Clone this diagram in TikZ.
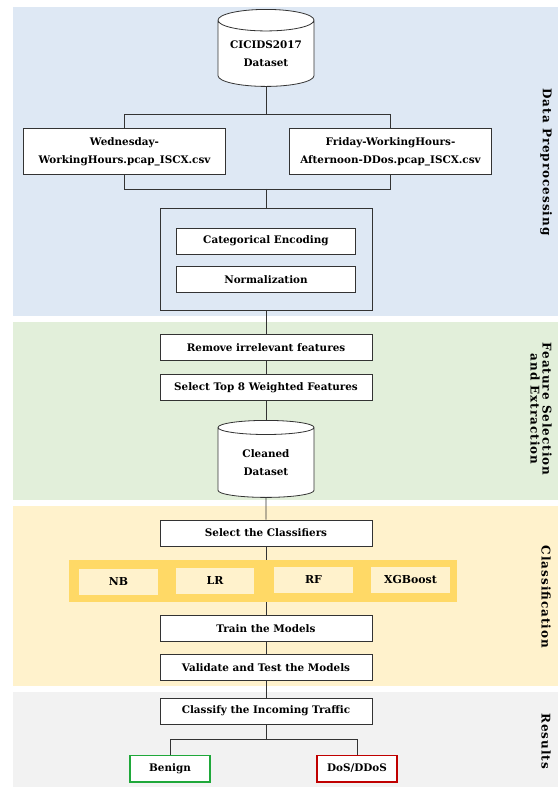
\documentclass[tikz,border=0pt]{standalone}
\usepackage{fontspec}
\setmainfont{DejaVu Serif}
\usetikzlibrary{positioning, shapes.geometric, backgrounds}

\definecolor{prepblue}{HTML}{DEE8F4}
\definecolor{featgreen}{HTML}{E2EFDA}
\definecolor{clsyellow}{HTML}{FFF2CC}
\definecolor{baryellow}{HTML}{FFD966}
\definecolor{resgray}{HTML}{F2F2F2}
\definecolor{benigngreen}{HTML}{1FA83A}
\definecolor{dosred}{HTML}{C00000}

\begin{document}
\begin{tikzpicture}[x=0.75pt, y=-0.75pt,
  stepbox/.style={draw=black!80, line width=0.6pt, fill=white, minimum width=159pt,
                  minimum height=19.5pt, inner sep=0pt, align=center,
                  font=\fontsize{7.8}{13.5}\selectfont\bfseries},
  filebox/.style={stepbox, minimum width=152pt, minimum height=34pt},
  groupbox/.style={draw=black!80, line width=0.6pt, fill=prepblue, minimum width=159pt,
                   minimum height=76.5pt},
  innerbox/.style={stepbox, minimum width=134pt},
  dbnode/.style={cylinder, shape border rotate=90, aspect=0.3, draw=black!80,
                 line width=0.6pt, fill=white, minimum width=72pt, minimum height=57.75pt,
                 inner sep=0pt, align=center, font=\fontsize{7.8}{13.5}\selectfont\bfseries},
  modelbar/.style={fill=baryellow, minimum width=291pt, minimum height=31.5pt},
  modelbox/.style={fill=clsyellow, minimum width=59pt, minimum height=19.5pt,
                   font=\fontsize{8.2}{10}\selectfont\bfseries},
  resultbox/.style={stepbox, minimum width=60pt, minimum height=20pt, line width=1pt},
  bandlabel/.style={rotate=-90, align=center,
                    font=\fontsize{9}{9}\selectfont\bfseries\addfontfeature{LetterSpace=8}},
  link/.style={draw=black!80, line width=0.6pt},
]

\useasboundingbox (0,0) rectangle (558,787);

% Stage bands
\fill[prepblue] (13,7) rectangle (558,316);
\fill[featgreen] (13,322) rectangle (558,500);
\fill[clsyellow] (13,506) rectangle (558,686);
\fill[resgray] (13,692) rectangle (558,787);

% Data preprocessing
\node[dbnode] (cicids) at (266,53.5) {CICIDS2017\\Dataset};
\node[filebox] (wed) at (124.5,151.5) {Wednesday-\\WorkingHours.pcap\_ISCX.csv};
\node[filebox] (fri) at (390.5,151.5) {Friday-WorkingHours-\\Afternoon-DDos.pcap\_ISCX.csv};
\node[groupbox] (prep) at (266,259) {};
\node[innerbox] (catenc) at (266,241) {Categorical Encoding};
\node[innerbox, below=9pt of catenc] (norm) {Normalization};

\coordinate (split) at (266,114);
\coordinate (merge) at (266,189);

% Feature selection
\node[stepbox, below=18pt of prep] (remove) {Remove irrelevant features};
\node[stepbox, below=9.75pt of remove] (topfeat) {Select Top 8 Weighted Features};
\node[dbnode, below=14.25pt of topfeat] (cleaned) {Cleaned\\Dataset};

% Classification
\node[stepbox] (select) at (266,533) {Select the Classifiers};
\node[modelbar] (bar) at (263,581) {};
\node[modelbox] (nb) at (118.5,582) {NB};
\node[modelbox] (lr) at (215,580.5) {LR};
\node[modelbox] (rf) at (313.5,579.5) {RF};
\node[modelbox] (xgb) at (410.5,579.5) {XGBoost};
\node[stepbox] (train) at (266,628.5) {Train the Models};
\node[stepbox, below=9pt of train] (validate) {Validate and Test the Models};

% Results
\node[stepbox] (classify) at (266,711) {Classify the Incoming Traffic};
\coordinate (fork) at (266,739);
\node[resultbox, draw=benigngreen] (benign) at (170,768.5) {Benign};
\node[resultbox, draw=dosred] (dos) at (357,768.5) {DoS/DDoS};

% Connectors
\draw[link] (cicids) -- (split);
\draw[link] (split) -| (wed);
\draw[link] (split) -| (fri);
\draw[link] (wed) |- (merge);
\draw[link] (fri) |- (merge);
\draw[link] (merge) -- (prep);
\draw[link] (prep) -- (remove);
\draw[link] (remove) -- (topfeat);
\draw[link] (topfeat) -- (cleaned);
\draw[link] (cleaned) -- (select);
\draw[link] (select) -- (select |- bar.north);
\draw[link] (bar.south -| train) -- (train);
\draw[link] (train) -- (validate);
\draw[link] (validate) -- (classify);
\draw[link] (classify) -- (fork);
\draw[link] (fork) -| (benign);
\draw[link] (fork) -| (dos);

% Stage labels
\node[bandlabel] (lprep) at (546,162) {Data Preprocessing};
\node[bandlabel] (lfeat) at (541,409) {Feature Selection\\and Extraction};
\node[bandlabel] (lcls) at (546,597) {Classification};
\node[bandlabel] (lres) at (546,741) {Results};

\end{tikzpicture}
\end{document}
